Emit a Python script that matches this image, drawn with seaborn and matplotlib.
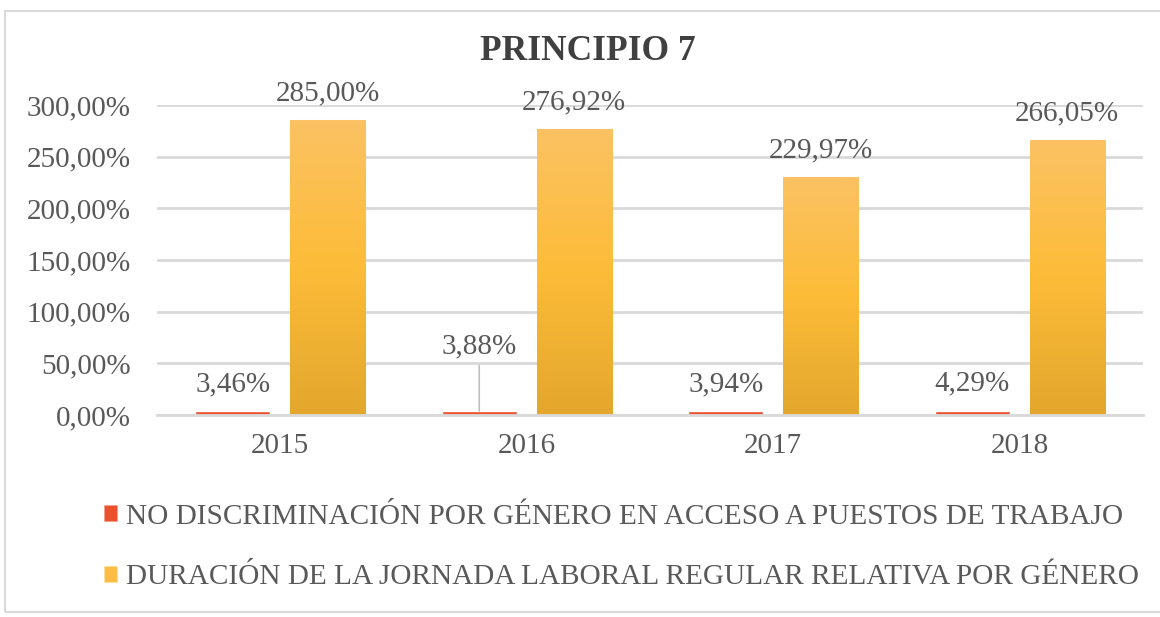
import numpy as np
import pandas as pd
import matplotlib
matplotlib.use("Agg")
import matplotlib.pyplot as plt
import seaborn as sns
from matplotlib.patches import Patch, Rectangle
from matplotlib.colors import LinearSegmentedColormap

years = ["2015", "2016", "2017", "2018"]
no_discriminacion = [3.46, 3.88, 3.94, 4.29]
duracion_jornada = [285.00, 276.92, 229.97, 266.05]
series_names = [
    "NO DISCRIMINACIÓN POR GÉNERO EN ACCESO A PUESTOS DE TRABAJO",
    "DURACIÓN DE LA JORNADA LABORAL REGULAR RELATIVA POR GÉNERO",
]
y_ticks = [0, 50, 100, 150, 200, 250, 300]

df = pd.DataFrame({
    "year": years * 2,
    "value": no_discriminacion + duracion_jornada,
    "serie": [series_names[0]] * 4 + [series_names[1]] * 4,
})

sns.set_theme(style="white")
plt.rcParams["font.family"] = ["Liberation Serif", "DejaVu Serif"]
text_color = "#595959"
grid_color = "#d9d9d9"
red = "#e9502b"
orange = "#fbbb3a"

fig = plt.figure(figsize=(11.6, 6.17), dpi=100)
ax = fig.add_axes([157 / 1160, 1 - 415 / 617, (1143 - 157) / 1160, (415 - 105) / 617])

sns.barplot(data=df, x="year", y="value", hue="serie", palette=[red, orange],
            width=0.771, gap=0.21, ax=ax, legend=False, saturation=1)

ax.set_ylim(0, 300)
ax.set_xlim(-0.5, 3.5)
ax.set_yticks(y_ticks)
ax.set_yticklabels([f"{t:.2f}".replace(".", ",") + "%" for t in y_ticks])
ax.set_xlabel("")
ax.set_ylabel("")
ax.grid(axis="y", color=grid_color, linewidth=2)
ax.set_axisbelow(True)
for s in ["top", "right", "left"]:
    ax.spines[s].set_visible(False)
ax.spines["bottom"].set_color(grid_color)
ax.spines["bottom"].set_linewidth(2)
ax.tick_params(axis="both", length=0, labelsize=21, colors=text_color)
ax.tick_params(axis="x", pad=13)
ax.tick_params(axis="y", pad=19)

# vertical gradient fill on the orange bars
grad = LinearSegmentedColormap.from_list("g", ["#e3a72d", "#fdbc38", "#fbc263"])
patches = list(ax.patches)
red_bars = patches[:4]
orange_bars = patches[4:8]
for p in orange_bars:
    x0, y0 = p.get_x(), p.get_y()
    w, h = p.get_width(), p.get_height()
    img = np.linspace(0, 1, 256).reshape(-1, 1)
    im = ax.imshow(img, cmap=grad, origin="lower", aspect="auto",
                   extent=[x0, x0 + w, y0, y0 + h], zorder=p.get_zorder())
    im.set_clip_path(p)
    p.set_edgecolor("#fde3b0")
    p.set_linewidth(0.8)

def fmt(v):
    return f"{v:.2f}".replace(".", ",") + "%"

for p, v in zip(orange_bars, duracion_jornada):
    ax.annotate(fmt(v), (p.get_x() + p.get_width() / 2, v), xytext=(0, 10),
                textcoords="offset points", ha="center", va="bottom",
                fontsize=21, color=text_color)

for i, (p, v) in enumerate(zip(red_bars, no_discriminacion)):
    cx = p.get_x() + p.get_width() / 2
    if i == 1:
        ax.annotate(fmt(v), (cx, v), xytext=(0, 37), textcoords="offset points",
                    ha="center", va="bottom", fontsize=21, color=text_color,
                    arrowprops=dict(arrowstyle="-", color="#bfbfbf", lw=1.2,
                                    shrinkA=2, shrinkB=0))
    else:
        ax.annotate(fmt(v), (cx, v), xytext=(0, 10), textcoords="offset points",
                    ha="center", va="bottom", fontsize=21, color=text_color)

fig.text(588 / 1160, 1 - 52 / 617, "PRINCIPIO 7", ha="center", va="center",
         fontsize=25.5, fontweight="bold", color="#404040")

handles = [Patch(facecolor=red, edgecolor="#f4a08a", lw=0.6),
           Patch(facecolor="#fdbd45", edgecolor="#fde0a0", lw=0.6)]
leg = fig.legend(handles, series_names, loc="center left",
                 bbox_to_anchor=(89 / 1160, 1 - 547 / 617), frameon=False,
                 fontsize=21.1, handlelength=0.45, handleheight=0.45,
                 handletextpad=0.3, labelspacing=1.19, borderpad=0)
for t in leg.get_texts():
    t.set_color(text_color)

fig.patches.append(Rectangle((5 / 1160, 1 - 612 / 617), 1.2, (612 - 11) / 617,
                             transform=fig.transFigure, fill=False,
                             edgecolor=grid_color, linewidth=1.5))

fig.savefig("out.png", dpi=100)
